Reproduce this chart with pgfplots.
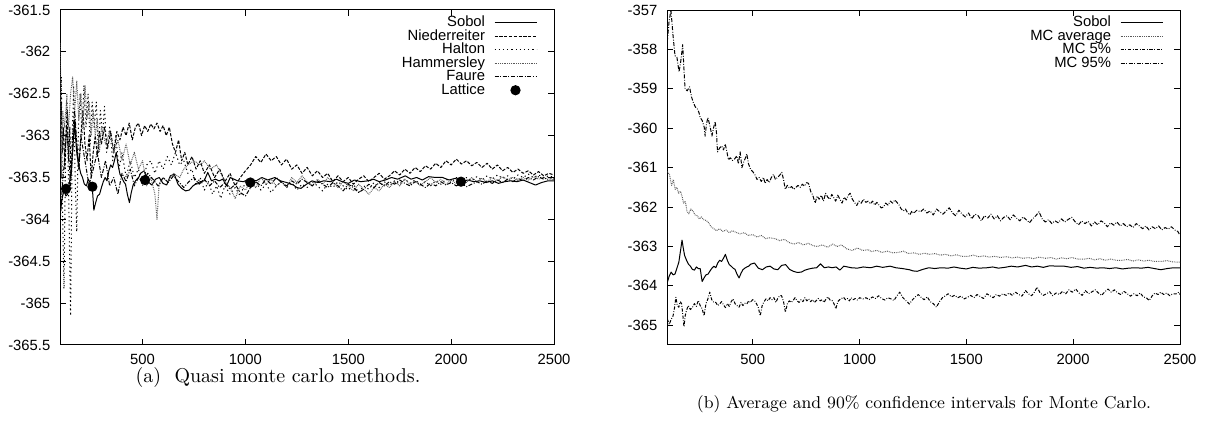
\documentclass[border=0pt]{standalone}
\usepackage{pgfplots}
\pgfplotsset{compat=1.18}
\usepackage{fontspec}
\newfontfamily\arial{Liberation Sans}
\definecolor{dotgray}{gray}{0.35}

\pgfplotstableread{
x y
100 -363.91
109 -363.75
118 -363.65
127 -363.72
136 -363.70
145 -363.55
154 -363.40
162 -363.10
169 -362.84
175 -363.05
181 -363.23
190 -363.35
199 -363.45
208 -363.50
217 -363.58
227 -363.60
236 -363.52
245 -363.56
254 -363.56
263 -363.89
272 -363.80
281 -363.72
291 -363.70
300 -363.62
309 -363.55
318 -363.50
327 -363.54
336 -363.42
345 -363.35
354 -363.38
363 -363.30
372 -363.20
381 -363.35
390 -363.46
399 -363.50
408 -363.55
417 -363.58
426 -363.70
436 -363.80
445 -363.68
454 -363.59
463 -363.55
472 -363.52
481 -363.50
490 -363.45
508 -363.42
526 -363.55
545 -363.59
563 -363.52
581 -363.50
599 -363.57
617 -363.59
635 -363.48
654 -363.46
672 -363.58
690 -363.63
709 -363.66
727 -363.65
745 -363.60
763 -363.57
781 -363.55
799 -363.54
817 -363.44
835 -363.54
854 -363.52
872 -363.54
890 -363.52
908 -363.60
926 -363.50
944 -363.52
962 -363.54
990 -363.55
1017 -363.52
1052 -363.54
1080 -363.50
1108 -363.53
1143 -363.50
1170 -363.54
1200 -363.56
1233 -363.59
1250 -363.62
1270 -363.63
1297 -363.58
1324 -363.54
1352 -363.56
1380 -363.54
1415 -363.55
1442 -363.52
1470 -363.55
1500 -363.57
1530 -363.53
1560 -363.55
1596 -363.54
1623 -363.52
1650 -363.55
1680 -363.53
1710 -363.50
1740 -363.52
1777 -363.48
1805 -363.52
1832 -363.50
1860 -363.53
1890 -363.49
1925 -363.50
1958 -363.50
1990 -363.53
2020 -363.51
2050 -363.55
2080 -363.53
2110 -363.55
2139 -363.54
2170 -363.56
2200 -363.54
2230 -363.57
2260 -363.55
2290 -363.54
2320 -363.55
2350 -363.53
2380 -363.56
2410 -363.59
2440 -363.56
2470 -363.54
2500 -363.54
}\sobol

\pgfplotstableread{
x y
100 -363.00
105 -362.60
110 -363.20
116 -362.90
122 -363.40
128 -363.00
134 -362.70
140 -363.30
146 -362.90
152 -363.50
160 -363.20
170 -362.80
180 -363.10
190 -363.40
200 -363.00
210 -362.70
220 -363.10
230 -363.30
240 -363.00
250 -363.50
260 -363.20
270 -363.00
280 -363.25
290 -362.95
300 -363.10
315 -362.90
330 -363.15
345 -362.95
360 -363.20
375 -362.95
390 -363.05
405 -362.90
420 -363.00
435 -362.85
450 -363.05
465 -362.90
480 -362.85
495 -363.00
510 -362.88
525 -362.95
540 -362.86
555 -362.92
570 -362.85
585 -362.95
600 -362.88
615 -363.00
630 -362.90
645 -363.10
660 -363.20
675 -363.05
690 -363.30
705 -363.20
720 -363.35
740 -363.25
760 -363.40
780 -363.30
800 -363.45
825 -363.35
850 -363.50
875 -363.40
900 -363.55
925 -363.45
950 -363.60
975 -363.50
1000 -363.42
1025 -363.35
1050 -363.25
1075 -363.32
1100 -363.22
1125 -363.30
1150 -363.25
1175 -363.35
1200 -363.28
1225 -363.40
1250 -363.35
1275 -363.45
1300 -363.38
1325 -363.48
1350 -363.42
1375 -363.50
1400 -363.45
1425 -363.55
1450 -363.48
1475 -363.55
1500 -363.50
1525 -363.58
1550 -363.52
1575 -363.48
1600 -363.55
1625 -363.50
1650 -363.45
1675 -363.52
1700 -363.48
1725 -363.42
1750 -363.47
1775 -363.40
1800 -363.45
1825 -363.38
1850 -363.43
1875 -363.36
1900 -363.40
1925 -363.33
1950 -363.38
1975 -363.30
2000 -363.35
2025 -363.28
2050 -363.34
2075 -363.30
2100 -363.36
2125 -363.32
2150 -363.38
2175 -363.33
2200 -363.40
2225 -363.35
2250 -363.42
2275 -363.38
2300 -363.44
2325 -363.40
2350 -363.45
2375 -363.42
2400 -363.47
2425 -363.43
2450 -363.48
2475 -363.45
2500 -363.47
}\nieder

\pgfplotstableread{
x y
100 -363.20
105 -362.30
110 -363.80
118 -364.83
125 -363.30
132 -362.50
140 -363.60
150 -365.15
158 -363.00
165 -362.40
172 -363.50
180 -364.15
188 -362.90
196 -362.50
205 -363.00
215 -362.40
225 -362.90
235 -362.50
245 -363.10
255 -362.60
265 -362.90
275 -362.60
285 -363.20
295 -362.70
305 -363.00
315 -362.65
325 -363.20
340 -362.90
355 -363.30
370 -363.00
385 -363.40
400 -363.20
420 -363.50
440 -363.30
460 -363.50
480 -363.40
500 -363.60
520 -363.35
540 -363.30
560 -363.45
580 -363.30
600 -363.40
620 -363.25
640 -363.35
660 -363.20
680 -363.35
700 -363.30
720 -363.45
740 -363.40
760 -363.60
780 -363.50
800 -363.65
820 -363.55
840 -363.70
860 -363.60
880 -363.75
900 -363.60
925 -363.70
950 -363.62
975 -363.72
1000 -363.55
1025 -363.62
1050 -363.55
1075 -363.65
1100 -363.58
1125 -363.68
1150 -363.60
1175 -363.55
1200 -363.62
1225 -363.56
1250 -363.65
1275 -363.58
1300 -363.62
1325 -363.55
1350 -363.60
1375 -363.66
1400 -363.58
1425 -363.62
1450 -363.55
1475 -363.60
1500 -363.65
1525 -363.58
1550 -363.68
1575 -363.60
1600 -363.64
1625 -363.56
1650 -363.62
1675 -363.55
1700 -363.60
1725 -363.54
1750 -363.58
1775 -363.52
1800 -363.57
1825 -363.53
1850 -363.58
1875 -363.55
1900 -363.60
1925 -363.54
1950 -363.58
1975 -363.52
2000 -363.56
2025 -363.50
2050 -363.55
2075 -363.50
2100 -363.54
2125 -363.49
2150 -363.53
2175 -363.48
2200 -363.52
2225 -363.47
2250 -363.51
2275 -363.48
2300 -363.52
2325 -363.47
2350 -363.50
2375 -363.46
2400 -363.50
2425 -363.47
2450 -363.50
2475 -363.48
2500 -363.50
}\halton

\pgfplotstableread{
x y
100 -361.90
103 -362.80
106 -363.50
112 -362.70
120 -362.90
130 -362.60
140 -362.90
150 -362.50
160 -362.30
170 -362.70
180 -362.35
190 -362.80
200 -362.50
210 -362.90
220 -362.40
230 -362.80
240 -362.60
250 -363.00
260 -362.70
270 -363.00
280 -362.80
290 -363.20
300 -362.90
320 -363.10
340 -362.95
360 -363.20
380 -363.05
400 -363.30
420 -363.10
440 -363.35
460 -363.20
480 -363.40
500 -363.30
520 -363.60
540 -363.50
560 -363.70
570 -364.00
580 -363.60
600 -363.50
620 -363.55
650 -363.45
680 -363.50
700 -363.40
720 -363.35
750 -363.30
780 -363.35
800 -363.30
830 -363.40
860 -363.35
880 -363.45
900 -363.55
925 -363.62
950 -363.75
975 -363.60
1000 -363.65
1025 -363.55
1050 -363.62
1075 -363.50
1100 -363.58
1125 -363.52
1150 -363.60
1175 -363.55
1200 -363.62
1225 -363.50
1250 -363.56
1275 -363.48
1300 -363.55
1325 -363.60
1350 -363.52
1375 -363.58
1400 -363.50
1425 -363.56
1450 -363.62
1475 -363.55
1500 -363.60
1525 -363.66
1550 -363.58
1575 -363.64
1600 -363.70
1625 -363.62
1650 -363.66
1675 -363.58
1700 -363.62
1725 -363.55
1750 -363.60
1775 -363.52
1800 -363.58
1825 -363.54
1850 -363.60
1875 -363.55
1900 -363.50
1925 -363.56
1950 -363.52
1975 -363.58
2000 -363.53
2025 -363.57
2050 -363.52
2075 -363.56
2100 -363.50
2125 -363.55
2150 -363.51
2175 -363.55
2200 -363.50
2225 -363.54
2250 -363.49
2275 -363.53
2300 -363.50
2325 -363.54
2350 -363.50
2375 -363.53
2400 -363.49
2425 -363.52
2450 -363.50
2475 -363.53
2500 -363.52
}\hammer

\pgfplotstableread{
x y
100 -364.00
110 -363.60
120 -363.30
130 -362.90
140 -363.20
150 -363.60
160 -363.00
170 -362.70
180 -363.10
190 -363.40
200 -363.00
220 -363.30
240 -363.60
260 -363.40
280 -363.20
300 -363.50
320 -363.30
340 -363.60
360 -363.50
380 -363.70
400 -363.45
420 -363.55
440 -363.40
460 -363.60
480 -363.50
500 -363.55
525 -363.45
550 -363.52
575 -363.60
600 -363.50
625 -363.56
650 -363.48
675 -363.55
700 -363.62
725 -363.55
750 -363.50
775 -363.58
800 -363.52
825 -363.60
850 -363.54
875 -363.62
900 -363.56
925 -363.64
950 -363.58
975 -363.68
1000 -363.72
1025 -363.62
1050 -363.55
1075 -363.60
1100 -363.52
1125 -363.58
1150 -363.50
1175 -363.56
1200 -363.60
1225 -363.54
1250 -363.58
1275 -363.52
1300 -363.56
1325 -363.60
1350 -363.54
1375 -363.58
1400 -363.62
1425 -363.56
1450 -363.60
1475 -363.66
1500 -363.58
1525 -363.62
1550 -363.68
1575 -363.64
1600 -363.58
1625 -363.62
1650 -363.56
1675 -363.60
1700 -363.55
1725 -363.58
1750 -363.53
1775 -363.57
1800 -363.60
1825 -363.55
1850 -363.58
1875 -363.62
1900 -363.57
1925 -363.60
1950 -363.55
1975 -363.59
2000 -363.56
2025 -363.60
2050 -363.57
2075 -363.61
2100 -363.58
2125 -363.55
2150 -363.58
2175 -363.54
2200 -363.57
2225 -363.53
2250 -363.56
2275 -363.52
2300 -363.55
2325 -363.51
2350 -363.54
2375 -363.50
2400 -363.53
2425 -363.49
2450 -363.52
2475 -363.50
2500 -363.52
}\faure

\pgfplotstableread{
x y
128 -363.635
256 -363.61
512 -363.53
1024 -363.56
2048 -363.55
}\lattice

\pgfplotstableread{
x y
100 -361.10
110 -361.17
120 -361.45
128 -361.30
137 -361.55
145 -361.50
153 -361.65
162 -361.60
170 -361.75
176 -361.90
184 -361.85
192 -362.10
201 -362.17
210 -362.05
220 -362.10
230 -362.20
240 -362.22
250 -362.30
260 -362.25
270 -362.32
282 -362.34
294 -362.40
305 -362.50
318 -362.55
330 -362.60
345 -362.55
360 -362.62
375 -362.58
390 -362.65
405 -362.60
421 -362.64
440 -362.68
460 -362.65
480 -362.72
500 -362.70
520 -362.76
540 -362.72
560 -362.80
580 -362.78
603 -362.80
625 -362.85
648 -362.82
670 -362.90
693 -362.94
715 -362.90
737 -362.96
760 -362.92
782 -362.98
802 -363.00
825 -362.96
850 -363.02
874 -362.94
895 -363.00
915 -362.96
940 -363.06
965 -363.10
990 -363.04
1015 -363.10
1040 -363.08
1055 -363.13
1080 -363.10
1105 -363.15
1130 -363.12
1155 -363.16
1182 -363.15
1205 -363.12
1230 -363.18
1255 -363.16
1280 -363.20
1305 -363.17
1327 -363.20
1352 -363.18
1378 -363.22
1403 -363.20
1428 -363.24
1453 -363.21
1478 -363.25
1508 -363.25
1533 -363.22
1558 -363.26
1583 -363.24
1608 -363.27
1633 -363.25
1660 -363.28
1689 -363.26
1715 -363.29
1740 -363.27
1765 -363.30
1790 -363.28
1815 -363.31
1840 -363.27
1870 -363.30
1895 -363.28
1920 -363.32
1945 -363.29
1970 -363.31
1995 -363.28
2020 -363.32
2051 -363.32
2075 -363.30
2100 -363.34
2125 -363.31
2150 -363.35
2175 -363.32
2200 -363.35
2232 -363.35
2255 -363.33
2280 -363.37
2305 -363.34
2330 -363.37
2355 -363.35
2380 -363.38
2413 -363.38
2440 -363.36
2465 -363.39
2494 -363.40
2500 -363.40
}\mcavg

\pgfplotstableread{
x y
100 -357.80
108 -357.30
117 -357.00
126 -357.60
136 -358.16
145 -358.20
155 -358.57
163 -358.30
172 -357.88
178 -358.50
183 -359.00
193 -359.05
204 -358.95
213 -359.20
222 -359.35
231 -359.46
240 -359.50
248 -359.60
254 -359.73
263 -359.80
273 -359.98
277 -360.20
283 -359.90
290 -359.73
300 -359.95
309 -360.20
316 -360.00
324 -359.83
330 -360.10
335 -360.60
345 -360.50
355 -360.45
363 -360.55
371 -360.40
379 -360.60
386 -360.80
395 -360.75
405 -360.82
415 -360.78
425 -360.70
433 -360.90
441 -360.60
449 -361.00
458 -360.85
466 -360.75
472 -360.65
480 -360.90
490 -361.05
500 -361.10
511 -361.19
520 -361.30
530 -361.25
540 -361.35
550 -361.25
558 -361.40
567 -361.30
577 -361.38
587 -361.25
597 -361.17
606 -361.30
615 -361.25
625 -361.20
636 -361.12
644 -361.30
652 -361.55
662 -361.45
672 -361.52
682 -361.48
692 -361.55
702 -361.50
712 -361.45
722 -361.50
732 -361.42
742 -361.47
752 -361.38
761 -361.40
771 -361.60
781 -361.70
792 -361.90
801 -361.72
811 -361.80
821 -361.70
831 -361.85
841 -361.65
851 -361.75
861 -361.80
870 -361.68
878 -361.75
888 -361.85
898 -361.70
908 -361.80
918 -361.90
928 -361.75
938 -361.82
947 -361.70
956 -361.65
966 -361.80
976 -361.88
987 -361.96
997 -361.85
1008 -361.90
1018 -361.80
1029 -361.88
1040 -361.85
1050 -361.92
1061 -361.85
1071 -361.95
1081 -361.88
1091 -361.95
1101 -362.02
1112 -362.00
1122 -361.90
1133 -361.95
1144 -361.85
1155 -361.90
1165 -361.82
1175 -361.88
1185 -361.95
1195 -362.05
1205 -362.10
1215 -362.05
1225 -362.15
1235 -362.20
1245 -362.10
1253 -362.16
1268 -362.08
1285 -362.12
1300 -362.05
1315 -362.15
1330 -362.10
1345 -362.20
1360 -362.05
1375 -362.12
1390 -362.18
1405 -362.10
1420 -362.02
1435 -362.15
1450 -362.22
1465 -362.08
1480 -362.18
1495 -362.25
1510 -362.15
1525 -362.30
1540 -362.18
1555 -362.22
1570 -362.35
1585 -362.22
1600 -362.28
1615 -362.18
1630 -362.30
1645 -362.22
1660 -362.35
1675 -362.26
1690 -362.22
1705 -362.32
1720 -362.20
1735 -362.28
1750 -362.35
1765 -362.25
1780 -362.32
1795 -362.40
1810 -362.30
1825 -362.22
1840 -362.12
1855 -362.30
1870 -362.38
1885 -362.32
1900 -362.42
1915 -362.35
1930 -362.40
1945 -362.30
1960 -362.38
1975 -362.32
1993 -362.26
2010 -362.38
2025 -362.45
2040 -362.35
2055 -362.42
2070 -362.36
2085 -362.48
2100 -362.38
2115 -362.45
2130 -362.35
2145 -362.40
2160 -362.50
2175 -362.40
2190 -362.46
2205 -362.38
2220 -362.48
2235 -362.42
2250 -362.50
2265 -362.45
2280 -362.52
2295 -362.42
2310 -362.48
2325 -362.55
2340 -362.48
2355 -362.58
2370 -362.50
2385 -362.55
2400 -362.48
2415 -362.58
2430 -362.52
2445 -362.56
2460 -362.50
2475 -362.58
2490 -362.62
2500 -362.72
}\mcup

\pgfplotstableread{
x y
100 -364.84
109 -364.98
118 -364.85
127 -364.76
134 -364.55
140 -364.29
147 -364.50
154 -364.54
160 -364.40
167 -364.45
172 -364.70
178 -365.04
184 -364.75
190 -364.62
198 -364.50
208 -364.60
218 -364.54
227 -364.45
236 -364.52
245 -364.37
254 -364.50
263 -364.58
272 -364.76
281 -364.45
290 -364.33
299 -364.16
308 -364.35
318 -364.42
327 -364.42
336 -364.50
345 -364.46
354 -364.40
363 -364.48
372 -364.55
381 -364.45
390 -364.52
399 -364.40
408 -364.33
417 -364.45
426 -364.50
436 -364.54
445 -364.42
454 -364.50
463 -364.44
472 -364.46
481 -364.38
490 -364.42
499 -364.35
508 -364.37
517 -364.45
526 -364.55
535 -364.76
544 -364.50
553 -364.40
562 -364.33
572 -364.38
581 -364.30
590 -364.35
599 -364.30
608 -364.42
617 -364.32
626 -364.25
635 -364.25
644 -364.40
653 -364.67
662 -364.45
671 -364.38
680 -364.42
689 -364.37
698 -364.30
708 -364.38
717 -364.42
726 -364.35
735 -364.40
744 -364.30
753 -364.38
762 -364.33
771 -364.40
780 -364.35
789 -364.42
798 -364.37
807 -364.32
816 -364.38
825 -364.35
834 -364.42
843 -364.33
852 -364.28
862 -364.36
871 -364.37
880 -364.45
889 -364.58
898 -364.40
907 -364.35
916 -364.32
925 -364.29
934 -364.35
943 -364.32
952 -364.38
961 -364.30
970 -364.35
980 -364.32
990 -364.36
1000 -364.30
1016 -364.33
1030 -364.30
1045 -364.35
1060 -364.28
1075 -364.32
1089 -364.25
1103 -364.32
1118 -364.36
1132 -364.30
1147 -364.33
1161 -364.37
1175 -364.25
1188 -364.16
1203 -364.30
1218 -364.38
1233 -364.46
1248 -364.35
1261 -364.28
1275 -364.22
1288 -364.29
1302 -364.35
1317 -364.28
1331 -364.40
1345 -364.45
1360 -364.54
1374 -364.40
1388 -364.30
1402 -364.25
1415 -364.20
1430 -364.28
1445 -364.24
1460 -364.30
1475 -364.26
1490 -364.33
1505 -364.29
1520 -364.24
1535 -364.30
1550 -364.22
1565 -364.27
1580 -364.32
1596 -364.20
1610 -364.25
1625 -364.30
1640 -364.22
1655 -364.26
1670 -364.20
1686 -364.24
1700 -364.18
1715 -364.24
1730 -364.16
1745 -364.22
1760 -364.26
1777 -364.12
1790 -364.20
1805 -364.25
1820 -364.15
1831 -364.03
1845 -364.18
1860 -364.24
1875 -364.20
1890 -364.15
1904 -364.25
1920 -364.18
1935 -364.22
1950 -364.14
1965 -364.20
1980 -364.10
1996 -364.16
2012 -364.08
2027 -364.18
2042 -364.24
2057 -364.12
2072 -364.20
2088 -364.15
2103 -364.10
2118 -364.18
2133 -364.24
2148 -364.15
2163 -364.08
2178 -364.16
2193 -364.10
2208 -364.18
2223 -364.22
2238 -364.14
2253 -364.20
2268 -364.26
2284 -364.20
2299 -364.25
2314 -364.18
2328 -364.28
2342 -364.30
2356 -364.37
2370 -364.25
2383 -364.18
2397 -364.22
2410 -364.16
2424 -364.22
2438 -364.18
2452 -364.25
2466 -364.20
2483 -364.20
2494 -364.16
2500 -364.22
}\mclow

\pgfplotsset{
  gp/.style={
    scale only axis,
    xmin=100, xmax=2500,
    xtick={500,1000,1500,2000,2500},
    xticklabels={500,1000,1500,2000,2500},
    tick align=inside,
    major tick length=3pt,
    tick style={black, line width=0.5pt},
    axis line style={line width=0.5pt},
    ticklabel style={font=\arial\fontsize{7.4}{8}\selectfont},
    xticklabel style={yshift=-1pt},
    yticklabel style={xshift=-1.5pt},
    legend plot pos=right,
    legend cell align=right,
    legend style={draw=none, fill=none, inner sep=0pt, outer sep=0pt,
      at={(axis description cs:1,1)}, anchor=north east,
      xshift=-8.5pt, yshift=-3pt, row sep=0pt, column sep=4.5pt,
      nodes={inner sep=0pt, text height=5.4pt, text depth=1.35pt,
        font=\arial\fontsize{7.4}{8}\selectfont}},
    legend image code/.code={\draw[##1,mark repeat=2,mark phase=2] plot coordinates {(0pt,0pt)(10.5pt,0pt)(21pt,0pt)};},
    every axis plot/.append style={line width=0.5pt, line join=round},
  }
}

\begin{document}
\begin{tikzpicture}
\useasboundingbox (0,0) rectangle (604pt,213.5pt);

\begin{axis}[gp,
  at={(30.15pt,41pt)}, anchor=south west,
  width=246.85pt, height=167.5pt,
  ymin=-365.5, ymax=-361.5,
  ytick={-365.5,-365,-364.5,-364,-363.5,-363,-362.5,-362,-361.5},
  yticklabels={-365.5,-365,-364.5,-364,-363.5,-363,-362.5,-362,-361.5},
]
\addplot[black, no marks] table {\sobol};
\addlegendentry{Sobol}
\addplot[black, no marks, dash pattern=on 1.6pt off 0.8pt] table {\nieder};
\addlegendentry{Niederreiter}
\addplot[black, no marks, dash pattern=on 0.6pt off 1.5pt] table {\halton};
\addlegendentry{Halton}
\addplot[dotgray, no marks, dash pattern=on 0.4pt off 0.5pt] table {\hammer};
\addlegendentry{Hammersley}
\addplot[black, no marks, dash pattern=on 2pt off 0.8pt on 0.5pt off 0.8pt] table {\faure};
\addlegendentry{Faure}
\addplot[black, only marks, mark=*, mark size=2.3pt] table {\lattice};
\addlegendentry{Lattice}
\end{axis}

\begin{axis}[gp,
  at={(333.65pt,41pt)}, anchor=south west,
  width=256.35pt, height=167.5pt,
  ymin=-365.5, ymax=-357,
  ytick={-365,-364,-363,-362,-361,-360,-359,-358,-357},
  yticklabels={-365,-364,-363,-362,-361,-360,-359,-358,-357},
]
\addplot[black, no marks] table {\sobol};
\addlegendentry{Sobol}
\addplot[dotgray, no marks, dash pattern=on 0.4pt off 0.5pt] table {\mcavg};
\addlegendentry{MC average}
\addplot[black, no marks, dash pattern=on 1.6pt off 0.8pt on 0.4pt off 0.8pt] table {\mclow};
\addlegendentry{MC 5\%}
\addplot[black, no marks, dash pattern=on 2pt off 0.8pt on 0.4pt off 0.8pt] table {\mcup};
\addlegendentry{MC 95\%}
\end{axis}

\node[font=\fontsize{10}{12}\selectfont, anchor=center, inner sep=0pt] at (139pt,24.5pt) {(a)~~Quasi monte carlo methods.};
\node[font=\fontsize{8.6}{10}\selectfont, anchor=center, inner sep=0pt] at (462pt,11.5pt) {(b)~Average and 90\% confidence intervals for Monte Carlo.};
\end{tikzpicture}
\end{document}
